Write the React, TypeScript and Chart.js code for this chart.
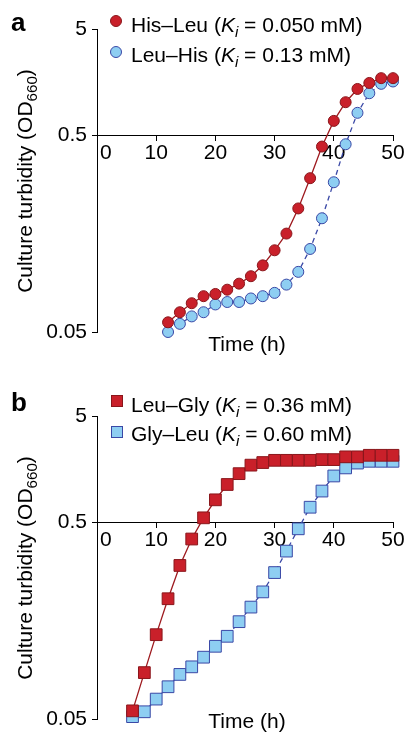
import React, { useEffect, useRef } from 'react';
import { Chart, registerables, LogarithmicScale } from 'chart.js';

Chart.register(...registerables);

// ---- data ----
const timesA = [12, 14, 16, 18, 20, 22, 24, 26, 28, 30, 32, 34, 36, 38, 40, 42, 44, 46, 48, 50];
const hisLeu = [0.056, 0.063, 0.070, 0.076, 0.078, 0.082, 0.088, 0.096, 0.109, 0.130, 0.158, 0.212, 0.302, 0.437, 0.68, 1.02, 1.36, 1.55, 1.72, 1.72];
const leuHis = [0.050, 0.055, 0.060, 0.063, 0.069, 0.071, 0.071, 0.074, 0.076, 0.079, 0.087, 0.101, 0.132, 0.189, 0.288, 0.449, 0.81, 1.24, 1.52, 1.60];

const timesB = [6, 8, 10, 12, 14, 16, 18, 20, 22, 24, 26, 28, 30, 32, 34, 36, 38, 40, 42, 44, 46, 48, 50];
const leuGly = [0.055, 0.086, 0.134, 0.204, 0.301, 0.410, 0.548, 0.81, 1.13, 1.43, 1.72, 1.82, 1.91, 1.91, 1.91, 1.91, 1.94, 1.94, 2.06, 2.06, 2.13, 2.13, 2.13];
const glyLeu = [0.0514, 0.0544, 0.0631, 0.0729, 0.0842, 0.092, 0.103, 0.117, 0.1315, 0.156, 0.185, 0.221, 0.277, 0.356, 0.462, 0.69, 0.98, 1.36, 1.62, 1.80, 1.87, 1.87, 1.87];

const yTickValues = [0.05, 0.5, 5];
const yTickLabels = ['0.05', '0.5', '5'];
const xTickValues = [0, 10, 20, 30, 40, 50];
const xTickLabels = ['   0', '10', '20', '30', '40', '50'];

// ---- styles ----
const FONT = '"Liberation Sans", Arial, Helvetica, sans-serif';
const RED_FILL = '#c9202a';
const RED_EDGE = '#8a161b';
const RED_LINE = '#9e1a1f';
const BLUE_FILL = '#8ecef2';
const BLUE_EDGE = '#3a48a6';
const BLUE_LINE = '#3a48a6';

const SPLIT_VALUE = 0.5;
const SPLIT_FRACTION = 0.65;

class SplitLogScale extends LogarithmicScale {
  static id = 'splitlog';
  static defaults = {};
  getPixelForValue(value: number) {
    const lo = Math.log10(this.min);
    const hi = Math.log10(this.max);
    const mid = Math.log10(SPLIT_VALUE);
    const v = Math.log10(value);
    const dec = v <= mid
      ? ((v - lo) / (mid - lo)) * SPLIT_FRACTION
      : SPLIT_FRACTION + ((v - mid) / (hi - mid)) * (1 - SPLIT_FRACTION);
    return this.getPixelForDecimal(dec);
  }
  getValueForPixel(pixel: number) {
    const dec = this.getDecimalForPixel(pixel);
    const lo = Math.log10(this.min);
    const hi = Math.log10(this.max);
    const mid = Math.log10(SPLIT_VALUE);
    const v = dec <= SPLIT_FRACTION
      ? lo + (dec / SPLIT_FRACTION) * (mid - lo)
      : mid + ((dec - SPLIT_FRACTION) / (1 - SPLIT_FRACTION)) * (hi - mid);
    return Math.pow(10, v);
  }
}
Chart.register(SplitLogScale as any);

type Series = { label: string; values: number[]; kind: 'red' | 'blue' };

function GrowthChart({ times, series, pointStyle, pointRadius, top, height, padBottom }:
  { times: number[]; series: Series[]; pointStyle: string; pointRadius: number; top: number; height: number; padBottom: number }) {
  const ref = useRef<HTMLCanvasElement | null>(null);
  useEffect(() => {
    if (!ref.current) return;
    const datasets = series.map((s) => {
      const red = s.kind === 'red';
      return {
        label: s.label,
        data: times.map((t, i) => ({ x: t, y: s.values[i] })),
        borderColor: red ? RED_LINE : BLUE_LINE,
        borderWidth: 1.3,
        borderDash: red ? [] : [5, 4],
        backgroundColor: red ? RED_FILL : BLUE_FILL,
        pointBackgroundColor: red ? RED_FILL : BLUE_FILL,
        pointBorderColor: red ? RED_EDGE : BLUE_EDGE,
        pointBorderWidth: 1,
        pointRadius,
        pointStyle,
        tension: 0,
        clip: false,
      };
    });
    const chart = new Chart(ref.current, {
      type: 'line',
      data: { datasets } as any,
      options: {
        animation: false,
        responsive: false,
        devicePixelRatio: 1,
        events: [],
        layout: { padding: { left: 0, right: 13, top: 29, bottom: padBottom } },
        plugins: { legend: { display: false }, tooltip: { enabled: false } },
        scales: {
          x: {
            type: 'linear',
            position: { y: 0.5 } as any,
            min: 0,
            max: 50,
            afterBuildTicks: (s: any) => { s.ticks = xTickValues.map((v) => ({ value: v })); },
            ticks: {
              autoSkip: false,
              maxRotation: 0,
              color: '#000',
              padding: 1,
              font: { family: FONT, size: 21 },
              callback: (v: any) => {
                const i = xTickValues.indexOf(Number(v));
                return i >= 0 ? xTickLabels[i] : '';
              },
            },
            grid: { drawOnChartArea: false, drawTicks: true, tickLength: 5, color: '#000', lineWidth: 1 },
            border: { display: true, color: '#000', width: 1 },
            afterFit: (s: any) => { s.paddingLeft = 0; s.paddingRight = 0; },
          },
          y: {
            type: 'splitlog' as any,
            position: 'left',
            min: 0.05,
            max: 5,
            bounds: 'data',
            afterBuildTicks: (s: any) => { s.ticks = yTickValues.map((v) => ({ value: v })); },
            ticks: {
              autoSkip: false,
              color: '#000',
              padding: 5,
              font: { family: FONT, size: 21 },
              callback: (v: any) => {
                const i = yTickValues.findIndex((t) => Math.abs(t - Number(v)) < 1e-9);
                return i >= 0 ? yTickLabels[i] : '';
              },
            },
            grid: { drawOnChartArea: false, drawTicks: true, tickLength: 5, color: '#000', lineWidth: 1 },
            border: { display: true, color: '#000', width: 1 },
            afterFit: (s: any) => { s.width = 97; s.paddingTop = 0; s.paddingBottom = 0; },
          },
        },
      } as any,
    });
    return () => chart.destroy();
  }, []);
  return (
    <canvas ref={ref} width={406} height={height}
      style={{ position: 'absolute', left: 0, top, width: 406, height }} />
  );
}

// text helper: place text so its baseline sits at y
function T({ x, y, size, bold, children, center }: any) {
  const off = size * 0.8465;
  return (
    <div style={{
      position: 'absolute', left: x, top: y - off, fontSize: size, lineHeight: `${size}px`,
      fontWeight: bold ? 'bold' : 'normal', whiteSpace: 'nowrap',
      transform: center ? 'translateX(-50%)' : undefined,
    }}>{children}</div>
  );
}

function Marker({ x, y, kind, shape }: any) {
  const red = kind === 'red';
  const size = 12;
  return (
    <div style={{
      position: 'absolute', left: x - size / 2, top: y - size / 2, width: size, height: size,
      boxSizing: 'border-box', background: red ? RED_FILL : BLUE_FILL,
      border: `1px solid ${red ? RED_EDGE : BLUE_EDGE}`,
      borderRadius: shape === 'circle' ? '50%' : 0,
    }} />
  );
}

function Ki({ name, val }: { name: string; val: string }) {
  return (
    <span>
      {name} (<i>K</i><i style={{ fontSize: '0.72em', position: 'relative', top: 5 }}>i</i> = {val} mM)
    </span>
  );
}

function YTitle({ cx, cy }: { cx: number; cy: number }) {
  return (
    <div style={{
      position: 'absolute', left: cx, top: cy, fontSize: 21, lineHeight: '21px', whiteSpace: 'nowrap',
      transform: 'translate(-50%, -50%) rotate(-90deg)',
    }}>
      Culture turbidity (OD<span style={{ fontSize: '0.72em', position: 'relative', top: 5 }}>660</span>)
    </div>
  );
}

export default function App() {
  return (
    <div style={{
      position: 'absolute', left: 0, top: 0, width: 406, height: 733, overflow: 'hidden',
      background: '#fff', fontFamily: FONT, color: '#000',
    }}>
      <GrowthChart times={timesA} pointStyle="circle" pointRadius={5.5} top={0} height={380} padBottom={48}
        series={[{ label: 'His–Leu', values: hisLeu, kind: 'red' }, { label: 'Leu–His', values: leuHis, kind: 'blue' }]} />
      <GrowthChart times={timesB} pointStyle="rect" pointRadius={8.3} top={387} height={346} padBottom={14}
        series={[{ label: 'Leu–Gly', values: leuGly, kind: 'red' }, { label: 'Gly–Leu', values: glyLeu, kind: 'blue' }]} />

      {/* panel a */}
      <T x={11} y={31} size={26} bold>a</T>
      <Marker x={116} y={21} kind="red" shape="circle" />
      <T x={131} y={31.5} size={21}><Ki name="His–Leu" val="0.050" /></T>
      <Marker x={116} y={52} kind="blue" shape="circle" />
      <T x={131} y={61.5} size={21}><Ki name="Leu–His" val="0.13" /></T>
      <YTitle cx={25} cy={180.5} />
      <T x={247} y={351} size={21} center>Time (h)</T>

      {/* panel b */}
      <T x={11} y={411.5} size={26} bold>b</T>
      <Marker x={116.5} y={401} kind="red" shape="rect" />
      <T x={131} y={411.5} size={21}><Ki name="Leu–Gly" val="0.36" /></T>
      <Marker x={116.5} y={431.5} kind="blue" shape="rect" />
      <T x={131} y={441} size={21}><Ki name="Gly–Leu" val="0.60" /></T>
      <YTitle cx={25} cy={567.5} />
      <T x={247} y={728} size={21} center>Time (h)</T>
    </div>
  );
}
